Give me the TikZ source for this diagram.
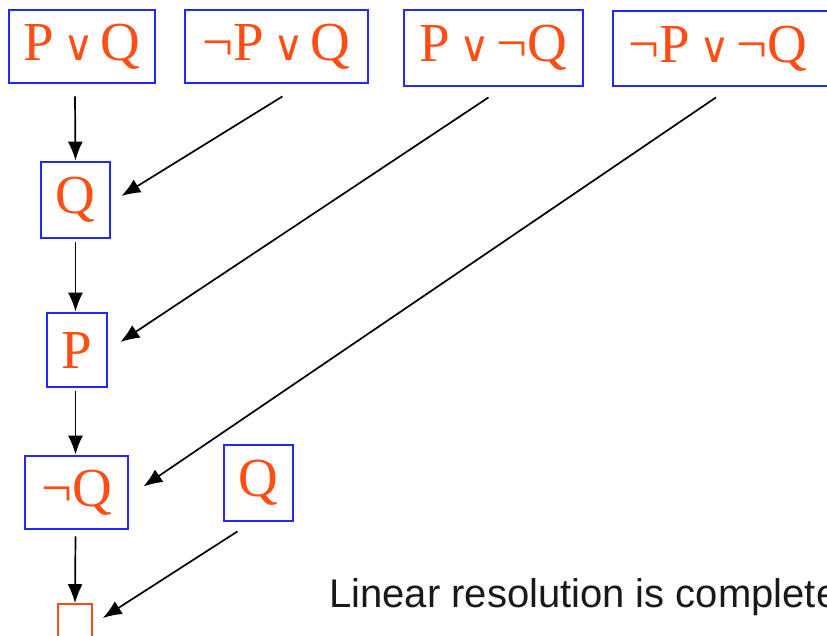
\documentclass[tikz,border=0pt]{standalone}
\usepackage{fontspec}
\setmainfont{Liberation Serif}
\newfontfamily\sansf{Liberation Sans}
\newfontfamily\symf{DejaVu Serif}
\usetikzlibrary{arrows.meta,calc}
\definecolor{orng}{RGB}{255,78,20}
\definecolor{bbl}{RGB}{30,40,255}
\tikzset{
  clause/.style={draw=bbl, line width=2.8pt, text=orng, inner sep=0pt,
    font=\fontsize{55}{60}\selectfont},
  arr/.style={line width=1.7pt, -{Latex[length=19pt,width=15pt]}},
}
\newcommand{\Or}{\hspace{0.16em}{\symf\fontsize{42}{48}\selectfont ∨}\hspace{0.12em}}
\newcommand{\Ng}{¬}
\begin{document}
\begin{tikzpicture}[x=1pt,y=-1pt]
\clip (0,0) rectangle (827,636);
\fill[white] (0,0) rectangle (827,636);
\node[clause, minimum width=146pt, minimum height=73pt] (pq) at (82,46.5) {P\Or Q};
\node[clause, minimum width=183pt, minimum height=73pt] (npq) at (276.5,46.5) {\Ng P\Or Q};
\node[clause, minimum width=179pt, minimum height=76pt] (pnq) at (493.5,48) {P\Or\Ng Q};
\node[clause, minimum width=224pt, minimum height=75pt] (npnq) at (725,48.5) {\hspace*{-14pt}\Ng P\Or\Ng Q};
\node[clause, minimum width=69pt, minimum height=76pt] (q1) at (75.5,200) {Q};
\node[clause, minimum width=60pt, minimum height=74pt] (p) at (77,350) {P};
\node[clause, minimum width=103pt, minimum height=73pt] (nq) at (76.5,492.5) {\Ng Q};
\node[clause, minimum width=69pt, minimum height=76pt] (q2) at (258.5,483) {Q};
\node[draw=orng, line width=1.6pt, minimum width=34pt, minimum height=34pt, inner sep=0pt] (empty) at (75,621) {};
\node[anchor=base west, font=\sansf\fontsize{40}{46}\selectfont, text=black!90, inner sep=0pt] (note) at (329,607) {Linear resolution is complete};
% vertical chain
\draw[arr] ($(pq.south)+(-7,12)$) -- (q1.north);
\draw[arr] ($(q1.south)+(0,3)$) -- (p.north -| q1.south);
\draw[arr] ($(p.south -| q1.south)+(0,3)$) -- (nq.north -| q1.south);
\draw[arr] ($(nq.south -| q1.south)+(0,6)$) -- (empty.north);
% diagonals
\draw[arr] ($(npq.south)+(6,12)$) -- ($(q1.east)+(10,-4)$);
\draw[arr] ($(pnq.south)+(-5,10)$) -- ($(p.east)+(12,-8)$);
\draw[arr] ($(npnq.south)+(-9,10)$) -- ($(nq.east)+(14,-6)$);
\draw[arr] ($(q2.south)+(-21,9)$) -- ($(empty.east)+(10,-3)$);
\end{tikzpicture}
\end{document}
